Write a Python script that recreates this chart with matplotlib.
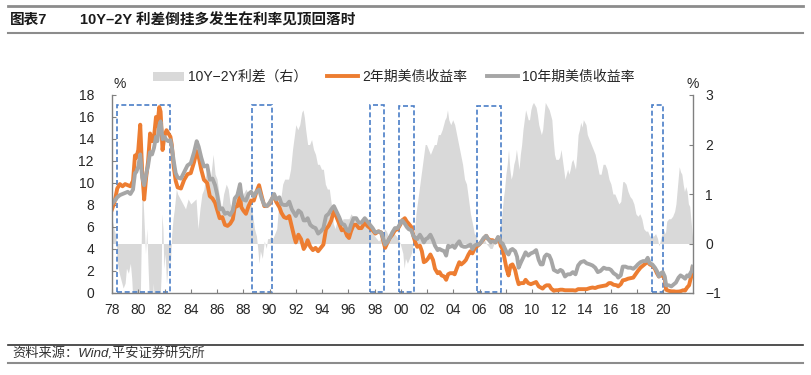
import matplotlib
matplotlib.use('Agg')
import matplotlib.pyplot as plt
from matplotlib.patches import Rectangle, Patch
from matplotlib.lines import Line2D

plt.rcParams['font.family'] = ['Liberation Sans', 'Noto Sans CJK SC', 'DejaVu Sans']
plt.rcParams['axes.unicode_minus'] = True

# ---- data ----
# yields: decimal year, 2Y yield (%), 10Y yield (%)
yr = [1978.0, 1978.2, 1978.4, 1978.6, 1978.8, 1979.0, 1979.2, 1979.4, 1979.6, 1979.75,
      1979.85, 1980.0, 1980.15, 1980.3, 1980.45, 1980.6, 1980.75, 1980.9, 1981.05, 1981.2,
      1981.35, 1981.45, 1981.6, 1981.7, 1981.85, 1982.0, 1982.15, 1982.3, 1982.45, 1982.55,
      1982.7, 1982.85, 1983.0, 1983.25, 1983.5, 1983.75, 1984.0, 1984.25, 1984.45, 1984.6,
      1984.8, 1985.0, 1985.25, 1985.45, 1985.65, 1985.85, 1986.0, 1986.2, 1986.4, 1986.6,
      1986.8, 1987.0, 1987.2, 1987.35, 1987.55, 1987.75, 1987.85, 1988.0, 1988.2, 1988.4,
      1988.6, 1988.8, 1989.0, 1989.2, 1989.4, 1989.6, 1989.8, 1990.0, 1990.2, 1990.35,
      1990.5, 1990.75, 1990.9, 1991.1, 1991.3, 1991.5, 1991.7, 1991.9, 1992.0, 1992.2,
      1992.4, 1992.6, 1992.75, 1992.9, 1993.1, 1993.3, 1993.5, 1993.7, 1993.9, 1994.1,
      1994.3, 1994.5, 1994.7, 1994.9, 1995.1, 1995.3, 1995.5, 1995.7, 1995.9, 1996.05,
      1996.2, 1996.4, 1996.6, 1996.8, 1997.0, 1997.25, 1997.45, 1997.65, 1997.85, 1998.05,
      1998.3, 1998.5, 1998.65, 1998.8, 1998.95, 1999.15, 1999.35, 1999.55, 1999.75, 1999.95,
      2000.1, 2000.3, 2000.45, 2000.6, 2000.8, 2000.95, 2001.1, 2001.25, 2001.45, 2001.6,
      2001.75, 2001.9, 2002.05, 2002.25, 2002.45, 2002.6, 2002.8, 2002.95, 2003.1, 2003.3,
      2003.45, 2003.6, 2003.75, 2003.95, 2004.1, 2004.25, 2004.45, 2004.6, 2004.8, 2004.95,
      2005.15, 2005.3, 2005.45, 2005.6, 2005.75, 2005.95, 2006.1, 2006.3, 2006.5, 2006.65,
      2006.85, 2007.0, 2007.2, 2007.4, 2007.5, 2007.6, 2007.75, 2007.9, 2008.05, 2008.2,
      2008.35, 2008.5, 2008.7, 2008.85, 2008.97, 2009.15, 2009.35, 2009.5, 2009.7, 2009.9,
      2010.1, 2010.3, 2010.5, 2010.65, 2010.8, 2010.95, 2011.1, 2011.3, 2011.45, 2011.65,
      2011.8, 2011.95, 2012.15, 2012.3, 2012.5, 2012.7, 2012.9, 2013.1, 2013.3, 2013.5,
      2013.7, 2013.95, 2014.15, 2014.4, 2014.6, 2014.8, 2015.0, 2015.2, 2015.45, 2015.65,
      2015.85, 2016.0, 2016.2, 2016.45, 2016.55, 2016.75, 2016.9, 2017.1, 2017.3, 2017.5,
      2017.7, 2017.9, 2018.05, 2018.25, 2018.45, 2018.65, 2018.8, 2018.95, 2019.15, 2019.35,
      2019.5, 2019.65, 2019.8, 2019.95, 2020.1, 2020.2, 2020.4, 2020.6, 2020.8, 2020.95,
      2021.15, 2021.3, 2021.5, 2021.65, 2021.8, 2021.95, 2022.05, 2022.15, 2022.22]
y2 = [7.6, 8.3, 9.5, 9.9, 9.7, 9.9, 9.8, 9.7, 10.2, 12.5,
      12.3, 13.0, 15.3, 11.0, 8.5, 10.5, 12.0, 14.5, 13.8, 14.2,
      16.0, 15.2, 16.9, 16.5, 13.0, 14.3, 14.8, 14.5, 14.2, 13.5,
      11.5, 10.2, 9.6, 9.5, 10.3, 10.8, 10.9, 11.9, 12.9, 12.4,
      11.2, 10.3, 10.0, 8.8, 8.6, 8.2, 7.6, 6.8, 6.9, 6.2,
      6.1, 6.3, 6.7, 7.8, 7.9, 8.8, 7.8, 7.5, 7.2, 7.9,
      8.4, 8.4, 9.2, 9.8, 8.8, 7.9, 7.9, 8.1, 8.6, 8.9,
      8.3, 7.8, 7.3, 6.9, 6.8, 7.0, 6.0, 5.0, 4.6, 5.3,
      4.9, 4.0, 4.3, 4.8, 4.2, 3.9, 4.1, 3.8, 4.1, 4.4,
      5.8, 6.1, 6.6, 7.5, 6.9, 6.3, 5.7, 5.8, 5.2, 5.0,
      5.6, 6.2, 6.2, 5.9, 5.9, 6.4, 6.1, 5.9, 5.7, 5.4,
      5.6, 5.5, 4.8, 4.1, 4.5, 5.0, 5.3, 5.7, 5.8, 6.2,
      6.6, 6.8, 6.5, 6.3, 6.0, 5.2, 4.6, 4.2, 4.3, 3.8,
      2.8, 2.9, 3.1, 3.5, 3.0, 2.2, 1.8, 1.9, 1.6, 1.5,
      1.2, 1.7, 1.8, 1.8, 1.7, 2.2, 2.8, 2.6, 2.8, 3.0,
      3.5, 3.8, 3.6, 4.0, 4.2, 4.4, 4.6, 4.9, 5.2, 4.9,
      4.8, 4.8, 4.6, 5.0, 4.9, 4.3, 4.0, 3.1, 2.2, 1.6,
      2.5, 2.6, 2.1, 1.3, 0.8, 0.9, 0.9, 1.2, 0.9, 0.8,
      0.9, 1.0, 0.6, 0.5, 0.4, 0.6, 0.7, 0.7, 0.4, 0.2,
      0.25, 0.25, 0.3, 0.3, 0.25, 0.25, 0.25, 0.25, 0.22, 0.35,
      0.35, 0.35, 0.35, 0.45, 0.5, 0.45, 0.55, 0.6, 0.65, 0.7,
      0.9, 0.9, 0.75, 0.7, 0.6, 0.8, 1.15, 1.2, 1.3, 1.35,
      1.4, 1.75, 2.0, 2.3, 2.5, 2.7, 2.9, 2.6, 2.5, 2.2,
      1.8, 1.5, 1.6, 1.6, 1.3, 0.3, 0.2, 0.15, 0.15, 0.12,
      0.13, 0.16, 0.25, 0.22, 0.5, 0.7, 1.2, 1.6, 2.3]
y10 = [8.1, 8.4, 8.7, 8.9, 9.0, 9.1, 9.2, 9.0, 9.4, 10.9,
       11.0, 11.5, 12.6, 10.5, 9.8, 10.8, 11.6, 12.8, 12.6, 13.2,
       14.2, 13.8, 15.2, 15.6, 14.0, 14.2, 13.9, 13.8, 13.9, 13.3,
       12.0, 10.9, 10.5, 10.4, 11.0, 11.6, 11.8, 12.8, 13.8, 13.3,
       12.3, 11.5, 11.6, 10.3, 10.4, 9.8, 9.0, 7.6, 7.7, 7.2,
       7.3, 7.1, 7.5, 8.6, 8.9, 9.9, 8.9, 8.5, 8.4, 9.0,
       9.2, 8.8, 9.2, 9.4, 8.6, 8.0, 7.9, 8.2, 8.6, 9.0,
       8.5, 8.7, 8.1, 8.0, 8.0, 8.3, 7.6, 7.2, 7.0, 7.5,
       7.3, 6.6, 6.6, 6.8, 6.2, 6.0, 5.9, 5.4, 5.6, 5.9,
       7.0, 7.2, 7.6, 7.9, 7.4, 6.9, 6.3, 6.2, 5.7, 5.6,
       6.2, 6.8, 6.8, 6.4, 6.4, 6.8, 6.5, 6.2, 5.9, 5.5,
       5.6, 5.5, 5.0, 4.4, 4.6, 5.0, 5.5, 5.9, 5.9, 6.3,
       6.6, 6.3, 6.0, 5.8, 5.7, 5.2, 5.0, 4.9, 5.3, 5.0,
       4.6, 4.9, 5.0, 5.3, 4.8, 4.3, 3.9, 4.0, 3.9, 3.8,
       3.4, 4.3, 4.2, 4.3, 4.1, 4.4, 4.7, 4.3, 4.2, 4.2,
       4.3, 4.4, 4.0, 4.3, 4.4, 4.4, 4.6, 5.0, 5.2, 4.9,
       4.6, 4.7, 4.6, 5.1, 5.0, 4.6, 4.5, 4.1, 3.7, 3.5,
       3.9, 4.0, 3.8, 3.3, 2.3, 2.8, 3.3, 3.7, 3.4, 3.6,
       3.7, 3.9, 3.0, 2.6, 2.6, 3.3, 3.5, 3.4, 3.0, 2.1,
       2.0, 1.9, 2.1, 2.0, 1.5, 1.7, 1.7, 1.9, 1.7, 2.5,
       2.8, 2.9, 2.7, 2.6, 2.5, 2.3, 1.9, 2.0, 2.3, 2.2,
       2.2, 2.1, 1.8, 1.6, 1.4, 1.6, 2.4, 2.4, 2.3, 2.3,
       2.2, 2.4, 2.6, 2.8, 2.9, 2.9, 3.2, 2.7, 2.6, 2.3,
       2.0, 1.5, 1.8, 1.9, 1.5, 0.7, 0.7, 0.6, 0.8, 0.95,
       1.4, 1.6, 1.45, 1.3, 1.6, 1.5, 1.8, 2.0, 2.4]

# 10Y-2Y spread (%, right axis)
spread_yr = [1978.0, 1978.15, 1978.3, 1978.4, 1978.55, 1978.7, 1978.85, 1979.0, 1979.1, 1979.25,
             1979.4, 1979.5, 1979.6, 1979.75, 1979.9, 1980.0, 1980.1, 1980.2, 1980.28, 1980.35,
             1980.45, 1980.55, 1980.65, 1980.75, 1980.85, 1980.95, 1981.05, 1981.15, 1981.25, 1981.35,
             1981.45, 1981.55, 1981.65, 1981.75, 1981.8, 1981.88, 1981.95, 1982.05, 1982.15, 1982.25,
             1982.35, 1982.45, 1982.55, 1982.65, 1982.75, 1982.9, 1983.0, 1983.2, 1983.4, 1983.6,
             1983.8, 1984.0, 1984.2, 1984.4, 1984.55, 1984.7, 1984.85, 1985.0, 1985.2, 1985.35,
             1985.5, 1985.7, 1985.85, 1986.0, 1986.15, 1986.35, 1986.5, 1986.7, 1986.85, 1987.0,
             1987.15, 1987.3, 1987.45, 1987.6, 1987.75, 1987.85, 1988.0, 1988.2, 1988.4, 1988.55,
             1988.7, 1988.85, 1989.0, 1989.1, 1989.2, 1989.3, 1989.45, 1989.6, 1989.75, 1989.85,
             1990.0, 1990.1, 1990.25, 1990.4, 1990.55, 1990.7, 1990.85, 1991.0, 1991.15, 1991.3,
             1991.45, 1991.6, 1991.75, 1991.9, 1992.0, 1992.15, 1992.3, 1992.45, 1992.55, 1992.65,
             1992.75, 1992.9, 1993.05, 1993.2, 1993.35, 1993.5, 1993.65, 1993.8, 1993.95, 1994.1,
             1994.25, 1994.4, 1994.55, 1994.7, 1994.85, 1995.0, 1995.15, 1995.3, 1995.45, 1995.6,
             1995.75, 1995.9, 1996.05, 1996.2, 1996.35, 1996.5, 1996.65, 1996.8, 1996.95, 1997.1,
             1997.25, 1997.4, 1997.55, 1997.7, 1997.85, 1998.0, 1998.15, 1998.3, 1998.45, 1998.6,
             1998.75, 1998.9, 1999.05, 1999.2, 1999.35, 1999.5, 1999.65, 1999.8, 1999.95, 2000.05,
             2000.15, 2000.25, 2000.35, 2000.5, 2000.65, 2000.8, 2000.95, 2001.05, 2001.15, 2001.3,
             2001.45, 2001.6, 2001.75, 2001.85, 2001.95, 2002.1, 2002.25, 2002.4, 2002.55, 2002.7,
             2002.85, 2003.0, 2003.15, 2003.25, 2003.35, 2003.45, 2003.55, 2003.65, 2003.8, 2003.95,
             2004.1, 2004.25, 2004.4, 2004.55, 2004.7, 2004.85, 2005.0, 2005.15, 2005.3, 2005.45,
             2005.6, 2005.75, 2005.9, 2006.05, 2006.2, 2006.35, 2006.5, 2006.65, 2006.8, 2006.95,
             2007.1, 2007.25, 2007.4, 2007.5, 2007.6, 2007.7, 2007.8, 2007.9, 2008.0, 2008.1,
             2008.2, 2008.3, 2008.4, 2008.5, 2008.6, 2008.7, 2008.8, 2008.9, 2009.0, 2009.1,
             2009.2, 2009.3, 2009.4, 2009.5, 2009.6, 2009.7, 2009.8, 2009.9, 2010.0, 2010.1,
             2010.2, 2010.3, 2010.4, 2010.5, 2010.6, 2010.7, 2010.8, 2010.9, 2011.0, 2011.1,
             2011.2, 2011.3, 2011.4, 2011.5, 2011.6, 2011.7, 2011.8, 2011.9, 2012.0, 2012.1,
             2012.2, 2012.3, 2012.4, 2012.5, 2012.6, 2012.7, 2012.8, 2012.9, 2013.0, 2013.1,
             2013.2, 2013.3, 2013.4, 2013.5, 2013.6, 2013.7, 2013.8, 2013.9, 2014.0, 2014.1,
             2014.2, 2014.35, 2014.5, 2014.65, 2014.8, 2014.95, 2015.1, 2015.25, 2015.4, 2015.55,
             2015.7, 2015.85, 2016.0, 2016.15, 2016.3, 2016.45, 2016.6, 2016.75, 2016.9, 2017.0,
             2017.15, 2017.3, 2017.45, 2017.6, 2017.75, 2017.9, 2018.05, 2018.2, 2018.35, 2018.5,
             2018.65, 2018.8, 2018.95, 2019.1, 2019.25, 2019.4, 2019.55, 2019.65, 2019.75, 2019.85,
             2019.95, 2020.05, 2020.15, 2020.25, 2020.4, 2020.55, 2020.7, 2020.85, 2020.95, 2021.1,
             2021.2, 2021.3, 2021.4, 2021.5, 2021.6, 2021.7, 2021.8, 2021.9, 2022.0, 2022.1,
             2022.22]
spread = [0.5, 0.3, 0.15, -0.4, -0.6, -0.75, -0.9, -0.8, -0.5, -0.6,
          -0.4, -0.7, -1.2, -1.6, -1.3, -1.5, -2.0, -0.4, 0.9, 1.0,
          0.4, -0.2, 0.3, -0.5, -1.2, -1.8, -1.3, -0.8, -1.4, -1.8,
          -1.3, -1.7, -1.2, -0.6, 0.6, 0.3, -0.5, -0.2, -0.8, -0.5,
          -0.3, -0.4, 0.2, 0.5, 0.7, 1.1, 1.0, 0.9, 0.8, 0.7,
          0.9, 0.8, 0.85, 0.9, 0.3, 0.7, 1.0, 1.1, 1.5, 1.4,
          1.3, 1.8, 1.4, 1.3, 1.0, 0.7, 1.0, 1.2, 1.1, 0.8,
          0.7, 0.8, 1.0, 1.0, 1.1, 1.1, 1.0, 1.1, 1.0, 0.9,
          0.6, 0.3, 0.15, -0.1, -0.4, -0.15, -0.3, 0.05, -0.1, 0.1,
          0.1, 0.15, 0.1, 0.2, 0.3, 0.8, 0.9, 1.2, 1.3, 1.3,
          1.3, 1.5, 1.9, 2.2, 2.4, 2.3, 2.4, 2.65, 2.7, 2.55,
          2.3, 2.0, 2.0, 2.1, 1.9, 1.8, 1.6, 1.6, 1.5, 1.5,
          1.2, 1.1, 1.1, 0.8, 0.4, 0.3, 0.5, 0.5, 0.4, 0.5,
          0.5, 0.5, 0.5, 0.6, 0.55, 0.55, 0.5, 0.4, 0.5, 0.45,
          0.45, 0.4, 0.3, 0.25, 0.2, 0.15, 0.1, 0.05, 0.1, 0.05,
          0.3, 0.25, 0.15, 0.25, 0.3, 0.2, 0.15, 0.1, 0.0, -0.1,
          -0.2, -0.5, -0.3, -0.4, -0.3, -0.2, 0.0, 0.3, 0.6, 0.9,
          1.2, 1.5, 1.8, 2.0, 2.0, 1.9, 1.8, 1.9, 2.0, 2.0,
          2.2, 2.2, 2.3, 2.4, 2.5, 2.55, 2.7, 2.5, 2.4, 2.5,
          2.4, 2.2, 2.0, 1.8, 1.6, 1.3, 1.2, 0.9, 0.6, 0.4,
          0.2, 0.15, 0.0, 0.0, 0.05, 0.1, 0.0, -0.05, -0.1, -0.1,
          0.0, 0.05, 0.05, 0.15, 0.4, 0.6, 0.9, 1.1, 1.4, 1.6,
          1.9, 1.5, 1.3, 1.4, 1.6, 1.7, 1.9, 1.7, 1.5, 1.8,
          2.0, 2.3, 2.5, 2.7, 2.6, 2.5, 2.5, 2.7, 2.8, 2.85,
          2.8, 2.75, 2.6, 2.4, 2.3, 2.2, 2.3, 2.6, 2.85, 2.8,
          2.75, 2.7, 2.6, 2.5, 2.1, 1.8, 1.7, 1.7, 1.7, 1.75,
          1.9, 1.7, 1.5, 1.3, 1.4, 1.5, 1.4, 1.5, 1.65, 1.7,
          1.6, 1.5, 1.8, 2.2, 2.3, 2.45, 2.35, 2.5, 2.45, 2.4,
          2.2, 2.1, 2.0, 1.9, 1.8, 1.6, 1.4, 1.4, 1.6, 1.6,
          1.5, 1.3, 1.2, 1.0, 1.0, 0.9, 0.8, 0.85, 1.25, 1.25,
          1.2, 1.05, 0.95, 0.9, 0.8, 0.6, 0.55, 0.6, 0.5, 0.3,
          0.25, 0.25, 0.15, 0.15, 0.15, 0.2, 0.1, -0.05, 0.05, 0.15,
          0.3, 0.25, 0.2, 0.45, 0.5, 0.5, 0.55, 0.65, 0.8, 1.25,
          1.55, 1.45, 1.4, 1.2, 1.05, 1.15, 1.05, 0.8, 0.75, 0.45,
          0.1]

# inversion windows marked with dashed boxes: start, end, top (left-axis %)
box_start = [1978.38, 1988.66, 1997.65, 1999.86, 2005.8, 2019.13]
box_end = [1982.4, 1990.19, 1998.72, 2001.0, 2007.63, 2019.97]
box_top = [17.05, 17.1, 17.05, 17.0, 17.0, 17.1]

x_ticks = list(range(1978, 2021, 2))
x_labels = ['%02d' % (y % 100) for y in x_ticks]

ORANGE = '#ED7D31'
GREY_LINE = '#A6A6A6'
GREY_FILL = '#D9D9D9'
BLUE = '#4A7EC7'
AXIS = '#808080'
TXT = '#262626'

W, H = 811, 375
fig = plt.figure(figsize=(W / 100, H / 100), dpi=100)
ax = fig.add_axes([112 / W, (H - 293) / H, 581 / W, 198 / H])
ax2 = ax.twinx()

# spread area on the right axis, kept behind the lines
ax2.fill_between(spread_yr, 0, spread, color=GREY_FILL, lw=0)
ax.set_zorder(ax2.get_zorder() + 1)
ax.patch.set_visible(False)

ax.plot(yr, y2, color=ORANGE, lw=2.8, solid_joinstyle='round')
ax.plot(yr, y10, color=GREY_LINE, lw=2.8, solid_joinstyle='round')

for s, e, t in zip(box_start, box_end, box_top):
    ax.add_patch(Rectangle((s, 0.05), e - s, t - 0.05, fill=False,
                           edgecolor=BLUE, lw=1.2, ls=(0, (3, 1.6))))

ax.set_xlim(1978, 2022.25)
ax.set_ylim(0, 18)
ax2.set_ylim(-1, 3)
ax.set_yticks(range(0, 19, 2))
ax2.set_yticks([-1, 0, 1, 2, 3])
ax.set_xticks(x_ticks)
ax.set_xticklabels(x_labels)

for a in (ax, ax2):
    a.spines['top'].set_visible(False)
    for sp in a.spines.values():
        sp.set_color(AXIS)
        sp.set_linewidth(1.0)
ax.spines['right'].set_visible(False)
ax2.spines['left'].set_visible(False)
ax2.spines['bottom'].set_visible(False)

ax.tick_params(axis='y', direction='in', length=3, color=AXIS, labelsize=10,
               labelcolor=TXT, pad=13)
ax.tick_params(axis='x', direction='in', length=3, color=AXIS, labelsize=10,
               labelcolor=TXT, pad=7)
ax2.tick_params(axis='y', direction='in', length=3, color=AXIS, labelsize=10,
                labelcolor=TXT, pad=9)

fig.text(120 / W, 1 - 84 / H, '%', ha='center', va='center', fontsize=10, color=TXT)
fig.text(693 / W, 1 - 84 / H, '%', ha='center', va='center', fontsize=10, color=TXT)

handles = [Patch(facecolor=GREY_FILL, edgecolor='none'),
           Line2D([], [], color=ORANGE, lw=2.8),
           Line2D([], [], color=GREY_LINE, lw=2.8)]
labels = ['10Y−2Y利差（右）', '2年期美债收益率', '10年期美债收益率']
fig.legend(handles, labels, loc='center', bbox_to_anchor=(394 / W, 1 - 77 / H),
           ncol=3, frameon=False, fontsize=10, handlelength=2.2, handleheight=0.6,
           handletextpad=0.35, columnspacing=1.4, labelcolor=TXT)

# title and footer with rules
fig.add_artist(Line2D([8 / W, 803 / W], [1 - 6 / H, 1 - 6 / H], color='#8c8c8c', lw=2))
fig.add_artist(Line2D([8 / W, 803 / W], [1 - 33 / H, 1 - 33 / H], color='#8c8c8c', lw=1.5))
fig.text(10 / W, 1 - 20 / H, '图表7', fontsize=10.5, fontweight='bold', va='center', color='#1a1a1a')
fig.text(80 / W, 1 - 20 / H, '10Y–2Y 利差倒挂多发生在利率见顶回落时', fontsize=10.5,
         fontweight='bold', va='center', color='#1a1a1a')

fig.add_artist(Line2D([8 / W, 803 / W], [1 - 345 / H, 1 - 345 / H], color='#333333', lw=1.2))
fig.add_artist(Line2D([8 / W, 803 / W], [1 - 363 / H, 1 - 363 / H], color='#8c8c8c', lw=1.5))
fig.text(12 / W, 1 - 354 / H, '资料来源：Wind,平安证券研究所', fontsize=9.5, style='italic',
         va='center', color='#333333')

fig.savefig('out.png', dpi=100)
